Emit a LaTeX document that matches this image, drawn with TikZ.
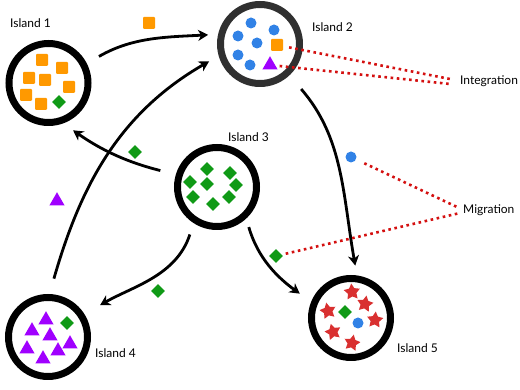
\documentclass[tikz,border=0pt]{standalone}
\usepackage{fontspec}
\setmainfont{Lato}
\usetikzlibrary{shapes.geometric,arrows.meta}
\definecolor{cOrange}{HTML}{FF9900}
\definecolor{cBlue}{HTML}{3182E6}
\definecolor{cGreen}{HTML}{109A16}
\definecolor{cPurple}{HTML}{A000FF}
\definecolor{cRed}{HTML}{D93030}
\definecolor{cDots}{HTML}{D41010}
\definecolor{cRing}{HTML}{303030}
\begin{document}
\begin{tikzpicture}[x=1pt,y=1pt,
  island/.style={circle, draw=black, line width=7pt, minimum size=79pt, inner sep=0pt},
  lbl/.style={anchor=west, font=\fontsize{12}{14}\selectfont, inner sep=0pt},
  sq/.style={rectangle, fill=cOrange, minimum size=12pt, inner sep=0pt, rounded corners=1pt},
  dot/.style={circle, fill=cBlue, minimum size=11pt, inner sep=0pt},
  gem/.style={diamond, fill=cGreen, minimum size=14pt, inner sep=0pt},
  tri/.style={regular polygon, regular polygon sides=3, fill=cPurple, minimum size=17.5pt, inner sep=0pt},
  starf/.style={star, star points=5, star point ratio=1.9, fill=cRed, minimum size=17pt, inner sep=0pt},
  arr/.style={line width=2.8pt, -{Stealth[length=10pt,width=11pt,inset=3pt]}},
  link/.style={draw=cDots, line width=2.6pt, dash pattern=on 2.6pt off 3.6pt}]
\useasboundingbox (0,0) rectangle (520,390);

% islands
\node[island] (i1) at (48.5,307) {};
\node[island, draw=cRing] (i2) at (260,346) {};
\node[island] (i3) at (217,203) {};
\node[island] (i4) at (48,53) {};
\node[island] (i5) at (351,72) {};

% labels
\node[lbl] (l1) at (10,367) {Island 1};
\node[lbl] (l2) at (312,363) {Island 2};
\node[lbl] (l3) at (228,253) {Island 3};
\node[lbl] (l4) at (95,37) {Island 4};
\node[lbl] (l5) at (397,42) {Island 5};
\node[lbl] (lint) at (460,309) {Integration};
\node[lbl] (lmig) at (463,180) {Migration};

% island 1 contents
\node[sq] (a1) at (42,330) {};
\node[sq] (a2) at (62,322) {};
\node[sq] (a3) at (29,312) {};
\node[sq] (a4) at (45,310) {};
\node[sq] (a5) at (69,303) {};
\node[sq] (a6) at (26,295) {};
\node[sq] (a7) at (41,286) {};
\node[gem] (a8) at (59,288) {};

% island 2 contents
\node[dot] (b1) at (251,367) {};
\node[dot] (b2) at (274,360) {};
\node[dot] (b3) at (238,354) {};
\node[dot] (b4) at (257,347) {};
\node[dot] (b5) at (238,335) {};
\node[dot] (b6) at (250,325) {};
\node[sq] (b7) at (277,345) {};
\node[tri] (b8) at (270,325) {};

% island 3 contents
\node[gem] (c1) at (207,221) {};
\node[gem] (c2) at (230,217) {};
\node[gem] (c3) at (190,208) {};
\node[gem] (c4) at (207,206) {};
\node[gem] (c5) at (236,205) {};
\node[gem] (c6) at (193,193) {};
\node[gem] (c7) at (229,193) {};
\node[gem] (c8) at (213,186) {};

% island 4 contents
\node[tri] (d1) at (46,70) {};
\node[tri] (d2) at (32,59) {};
\node[tri] (d3) at (50,54) {};
\node[tri] (d4) at (70,46) {};
\node[tri] (d5) at (27,41) {};
\node[tri] (d6) at (58,39) {};
\node[tri] (d7) at (43,31) {};
\node[gem] (d8) at (67,67) {};

% island 5 contents
\node[starf, rotate=5] (e1) at (352,98) {};
\node[starf, rotate=-10] (e2) at (365,86) {};
\node[starf, rotate=12] (e3) at (328,79) {};
\node[starf, rotate=-5] (e4) at (375,70) {};
\node[starf, rotate=15] (e5) at (333,58) {};
\node[starf, rotate=-12] (e6) at (352,47) {};
\node[gem] (e7) at (345,78) {};
\node[dot] (e8) at (358,67) {};

% travellers
\node[sq] (t1) at (149,367) {};
\node[tri] (t2) at (57,189) {};
\node[gem] (t3) at (135,238) {};
\node[gem] (t4) at (158,99) {};
\node[dot] (t5) at (351,233) {};
\node[gem] (t6) at (276,134) {};

% arrows
\draw[arr, shorten <=14pt, shorten >=10pt] (i1.27) to[out=30,in=183] (i2.167);
\draw[arr, shorten <=16pt, shorten >=11pt] (i4.88) to[out=74,in=210] (i2.196);
\draw[arr, shorten <=16pt, shorten >=12pt] (i3.163) to[out=166,in=-35] (i1.-70);
\draw[arr, shorten <=18pt, shorten >=10pt] (i2.-47) to[out=-49,in=100] (i5.82);
\draw[arr, shorten <=12pt, shorten >=18pt] (i3.237) to[out=-108,in=30] (i4.32);
\draw[arr, shorten <=9pt, shorten >=14pt] (i3.-47) to[out=-74,in=144] (i5.158);

% dotted links
\coordinate (int1) at (450,311);
\coordinate (int2) at (450,306);
\coordinate (mig1) at (457,183);
\coordinate (mig2) at (460,177);
\draw[link, shorten <=6pt] (b7) -- (int1);
\draw[link, shorten <=4pt] (b8) -- (int2);
\draw[link, shorten <=9pt] (t5) -- (mig1);
\draw[link, shorten <=4pt] (t6) -- (mig2);
\end{tikzpicture}
\end{document}
